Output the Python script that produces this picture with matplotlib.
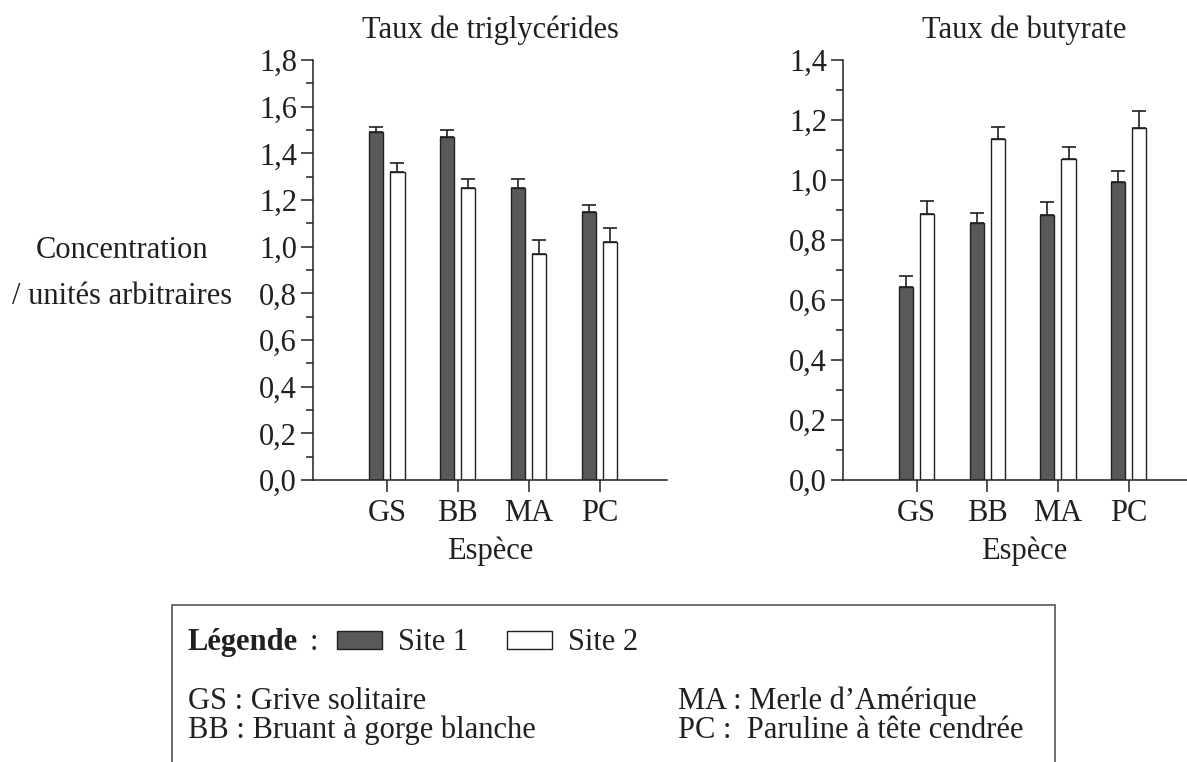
import numpy as np
import matplotlib
matplotlib.use("Agg")
import matplotlib.pyplot as plt
from matplotlib import transforms
from matplotlib.patches import Rectangle
from matplotlib.ticker import MultipleLocator, FuncFormatter

# data
especes = ["GS", "BB", "MA", "PC"]
trig_site1 = [1.49, 1.47, 1.25, 1.15]
trig_site1_err = [0.025, 0.03, 0.04, 0.03]
trig_site2 = [1.32, 1.25, 0.97, 1.02]
trig_site2_err = [0.04, 0.04, 0.06, 0.06]
buty_site1 = [0.645, 0.858, 0.884, 0.993]
buty_site1_err = [0.034, 0.032, 0.044, 0.038]
buty_site2 = [0.886, 1.138, 1.069, 1.172]
buty_site2_err = [0.045, 0.039, 0.042, 0.058]

plt.rcParams["font.family"] = ["Liberation Serif", "DejaVu Serif"]
INK = "#231f20"
DARK = "#58595b"
FS = 22

W, H = 1187, 762
fig = plt.figure(figsize=(W / 100, H / 100), dpi=100)


def px_box(x0, x1, ytop, ybot):
    return [x0 / W, 1 - ybot / H, (x1 - x0) / W, (ybot - ytop) / H]


def comma(v, pos):
    return f"{v:.1f}".replace(".", ",")


def draw_panel(ax, s1, e1, s2, e2, ymax, xmax, title):
    x = np.arange(len(especes))
    ekw = dict(ecolor=INK, elinewidth=1.2, capthick=1.2)
    ax.bar(x - 0.15, s1, 0.2, color=DARK, edgecolor=INK, linewidth=1.0,
           yerr=[np.zeros(len(s1)), e1], capsize=5, error_kw=ekw, zorder=2)
    ax.bar(x + 0.15, s2, 0.2, color="white", edgecolor=INK, linewidth=1.0,
           yerr=[np.zeros(len(s2)), e2], capsize=5, error_kw=ekw, zorder=2)
    ax.set_xlim(-1.04, xmax)
    ax.set_ylim(0, ymax)
    ax.set_xticks(x)
    ax.set_xticklabels(especes)
    ax.yaxis.set_major_locator(MultipleLocator(0.2))
    ax.yaxis.set_minor_locator(MultipleLocator(0.1))
    ax.yaxis.set_major_formatter(FuncFormatter(comma))
    for side in ("top", "right"):
        ax.spines[side].set_visible(False)
    for side in ("left", "bottom"):
        ax.spines[side].set_color(INK)
        ax.spines[side].set_linewidth(1.1)
    ax.tick_params(axis="both", which="major", length=8.5, width=1.1,
                   color=INK, labelsize=FS, labelcolor=INK)
    ax.tick_params(axis="y", which="major", pad=3)
    ax.tick_params(axis="x", which="major", pad=5)
    ax.tick_params(axis="y", which="minor", length=5, width=1.1, color=INK)
    ax.set_title(title, fontsize=FS, color=INK, pad=16)
    ax.set_xlabel("Espèce", fontsize=FS, color=INK, labelpad=6)


ax1 = fig.add_axes(px_box(313, 667, 60, 480))
draw_panel(ax1, trig_site1, trig_site1_err, trig_site2, trig_site2_err,
           1.8, 3.95, "Taux de triglycérides")

ax2 = fig.add_axes(px_box(843, 1205, 60, 480))
draw_panel(ax2, buty_site1, buty_site1_err, buty_site2, buty_site2_err,
           1.4, 4.08, "Taux de butyrate")

# y label, two lines aligned with the 1,0 and 0,8 ticks
tr = transforms.blended_transform_factory(fig.transFigure, ax1.transData)
ax1.text(122 / W, 1.0, "Concentration", transform=tr, ha="center",
         va="center_baseline", fontsize=FS, color=INK, clip_on=False)
ax1.text(122 / W, 0.8, "/ unités arbitraires", transform=tr, ha="center",
         va="center_baseline", fontsize=FS, color=INK, clip_on=False)

# legend box
fig.patches.append(Rectangle((172 / W, -0.05), (1055 - 172) / W,
                             1 - 605 / H + 0.05, transform=fig.transFigure,
                             fill=False, edgecolor="#555555", linewidth=1.2))


def ftext(x, y, s, **kw):
    fig.text(x / W, 1 - y / H, s, fontsize=FS, color=INK, va="baseline", **kw)


ftext(188, 650, "Légende", fontweight="bold")
ftext(310, 650, ":")
fig.patches.append(Rectangle((337 / W, 1 - 649 / H), 45 / W, 18 / H,
                             transform=fig.transFigure, facecolor=DARK,
                             edgecolor=INK, linewidth=1.0))
ftext(398, 650, "Site 1")
fig.patches.append(Rectangle((507 / W, 1 - 649 / H), 45 / W, 18 / H,
                             transform=fig.transFigure, facecolor="white",
                             edgecolor=INK, linewidth=1.0))
ftext(568, 650, "Site 2")

ftext(188, 709, "GS : Grive solitaire")
ftext(188, 738, "BB : Bruant à gorge blanche")
ftext(678, 709, "MA : Merle d’Amérique")
ftext(678, 738, "PC :  Paruline à tête cendrée")

fig.savefig("out.png", dpi=100)
